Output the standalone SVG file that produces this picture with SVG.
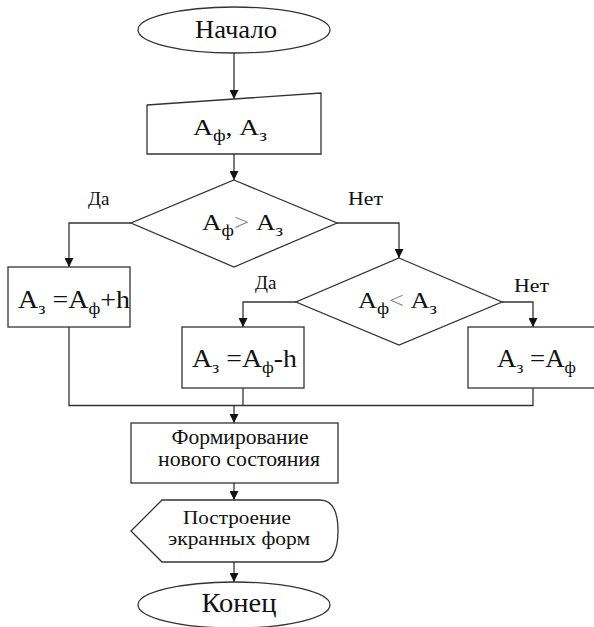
<svg xmlns="http://www.w3.org/2000/svg" width="594" height="627" viewBox="0 0 594 627">
  <defs>
    <marker id="arrow" viewBox="0 0 10 10" refX="10" refY="5" markerWidth="9" markerHeight="9" markerUnits="userSpaceOnUse" orient="auto">
      <path d="M0,0 L10,5 L0,10 Z" fill="#111"/>
    </marker>
    <style>
      .shape { fill: #fff; stroke: #333; stroke-width: 1.3; }
      .line { fill: none; stroke: #333; stroke-width: 1.3; }
      .arrow { marker-end: url(#arrow); }
      .t { font-family: "Liberation Serif", "DejaVu Serif", serif; fill: #111; }
      .big { font-size: 26px; }
      .mid { font-size: 24px; }
      .lbl { font-size: 19px; }
      .sub { font-size: 17px; }
      .op { fill: #888; }
    </style>
  </defs>

  <rect width="594" height="627" fill="#fff"/>

  <!-- connectors -->
  <g id="connectors">
    <path class="line arrow" d="M234,53 V99"/>
    <path class="line arrow" d="M234,154 V180"/>
    <path class="line arrow" d="M131,223 H69 V267"/>
    <path class="line arrow" d="M337,223 H399 V258"/>
    <path class="line arrow" d="M296,302 H243 V327"/>
    <path class="line arrow" d="M502,302 H533 V327"/>
    <path class="line" d="M69,327 V405.5 H533 V388"/>
    <path class="line" d="M243,388 V405.5"/>
    <path class="line arrow" d="M234,405.5 V423"/>
    <path class="line arrow" d="M234,483 V500"/>
    <path class="line arrow" d="M234,562 V582"/>
  </g>

  <!-- start -->
  <g id="start">
    <ellipse class="shape" cx="234" cy="30" rx="96" ry="23"/>
    <text class="t" x="236" y="38" font-size="26" text-anchor="middle" textLength="82" lengthAdjust="spacingAndGlyphs">Начало</text>
  </g>

  <!-- manual input -->
  <g id="input">
    <path class="shape" d="M147,105 L321,93 L321,154 L147,154 Z"/>
    <text class="t mid" x="193" y="135" textLength="74" lengthAdjust="spacingAndGlyphs">A<tspan class="sub" dy="6">ф</tspan><tspan dy="-6">, A</tspan><tspan class="sub" dy="6">з</tspan></text>
  </g>

  <!-- first decision -->
  <g id="decision1">
    <path class="shape" d="M234,180 L337,223 L234,267 L131,223 Z"/>
    <text class="t mid" x="202" y="230" textLength="81" lengthAdjust="spacingAndGlyphs">A<tspan class="sub" dy="6">ф</tspan><tspan class="op" dy="-6">&gt; </tspan><tspan>A</tspan><tspan class="sub" dy="6">з</tspan></text>
  </g>
  <g id="label-yes1"><text class="t lbl" x="88" y="205">Да</text></g>
  <g id="label-no1"><text class="t lbl" x="348" y="205" textLength="35" lengthAdjust="spacingAndGlyphs">Нет</text></g>

  <!-- increase -->
  <g id="increase">
    <rect class="shape" x="8" y="267" width="122" height="60"/>
    <text class="t big" x="18" y="308" textLength="112" lengthAdjust="spacingAndGlyphs">A<tspan class="sub" dy="6">з</tspan><tspan dy="-6"> =A</tspan><tspan class="sub" dy="6">ф</tspan><tspan dy="-6">+h</tspan></text>
  </g>

  <!-- second decision -->
  <g id="decision2">
    <path class="shape" d="M399,258 L502,302 L399,345 L296,302 Z"/>
    <text class="t mid" x="358" y="308" textLength="79" lengthAdjust="spacingAndGlyphs">A<tspan class="sub" dy="6">ф</tspan><tspan class="op" dy="-6">&lt; </tspan><tspan>A</tspan><tspan class="sub" dy="6">з</tspan></text>
  </g>
  <g id="label-yes2"><text class="t lbl" x="255" y="289">Да</text></g>
  <g id="label-no2"><text class="t lbl" x="514" y="292" textLength="35" lengthAdjust="spacingAndGlyphs">Нет</text></g>

  <!-- decrease -->
  <g id="decrease">
    <rect class="shape" x="182" y="327" width="122" height="61"/>
    <text class="t big" x="192" y="367" textLength="105" lengthAdjust="spacingAndGlyphs">A<tspan class="sub" dy="6">з</tspan><tspan dy="-6"> =A</tspan><tspan class="sub" dy="6">ф</tspan><tspan dy="-6">-h</tspan></text>
  </g>

  <!-- keep -->
  <g id="keep">
    <rect class="shape" x="468" y="327" width="140" height="61"/>
    <text class="t big" x="497" y="367" textLength="79" lengthAdjust="spacingAndGlyphs">A<tspan class="sub" dy="6">з</tspan><tspan dy="-6"> =A</tspan><tspan class="sub" dy="6">ф</tspan></text>
  </g>

  <!-- new state -->
  <g id="new-state">
    <rect class="shape" x="131" y="423" width="207" height="60"/>
    <text class="t" x="240" y="444" font-size="20" text-anchor="middle" textLength="137" lengthAdjust="spacingAndGlyphs">Формирование</text>
    <text class="t" x="239" y="466" font-size="20" text-anchor="middle" textLength="162" lengthAdjust="spacingAndGlyphs">нового состояния</text>
  </g>

  <!-- display -->
  <g id="display">
    <path class="shape" d="M131,531 L162,500 L320,500 C334,500 338,515 338,531 C338,547 334,562 320,562 L162,562 Z"/>
    <text class="t" x="237" y="524" font-size="19" text-anchor="middle" textLength="108" lengthAdjust="spacingAndGlyphs">Построение</text>
    <text class="t" x="239" y="545" font-size="19" text-anchor="middle" textLength="142" lengthAdjust="spacingAndGlyphs">экранных форм</text>
  </g>

  <!-- end -->
  <g id="end">
    <ellipse class="shape" cx="234" cy="605" rx="96" ry="23"/>
    <text class="t" x="239" y="612" font-size="28" text-anchor="middle" textLength="75" lengthAdjust="spacingAndGlyphs">Конец</text>
  </g>
</svg>
